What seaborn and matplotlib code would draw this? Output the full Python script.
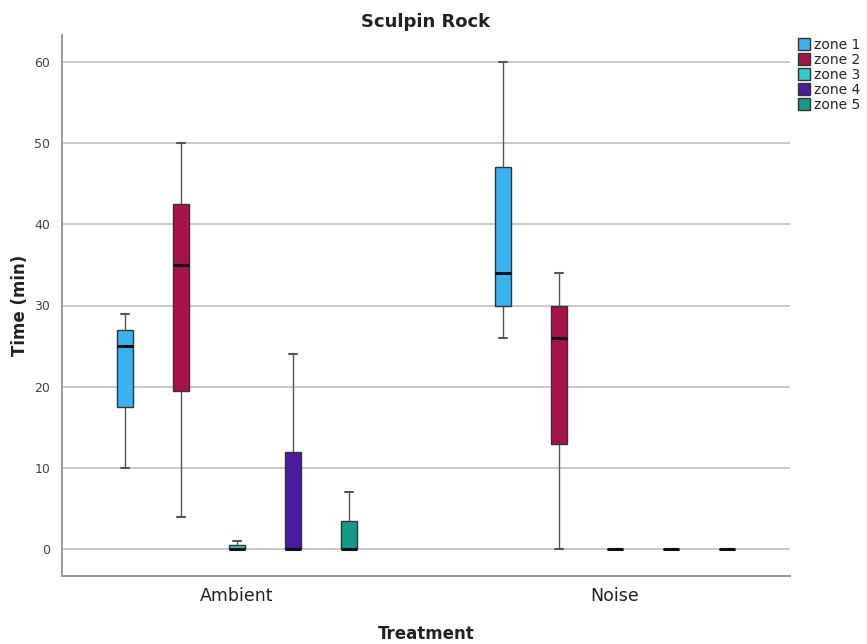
import numpy as np
import pandas as pd
import seaborn as sns
import matplotlib
matplotlib.use("Agg")
import matplotlib.pyplot as plt
from matplotlib.patches import Patch

# Data: five-number summaries (min, Q1, median, Q3, max)
treatments = ["Ambient", "Noise"]
zones = ["zone 1", "zone 2", "zone 3", "zone 4", "zone 5"]
ambient_zone1 = [10, 17.5, 25, 27, 29]
ambient_zone2 = [4, 19.5, 35, 42.5, 50]
ambient_zone3 = [0, 0, 0, 0.5, 1]
ambient_zone4 = [0, 0, 0, 12, 24]
ambient_zone5 = [0, 0, 0, 3.5, 7]
noise_zone1 = [26, 30, 34, 47, 60]
noise_zone2 = [0, 13, 26, 30, 34]
noise_zone3 = [0, 0, 0, 0, 0]
noise_zone4 = [0, 0, 0, 0, 0]
noise_zone5 = [0, 0, 0, 0, 0]
zone_colors = ["#3AB2F0", "#A8124B", "#2CCFCF", "#4A1AA0", "#14998A"]

series = {
    ("Ambient", "zone 1"): ambient_zone1,
    ("Ambient", "zone 2"): ambient_zone2,
    ("Ambient", "zone 3"): ambient_zone3,
    ("Ambient", "zone 4"): ambient_zone4,
    ("Ambient", "zone 5"): ambient_zone5,
    ("Noise", "zone 1"): noise_zone1,
    ("Noise", "zone 2"): noise_zone2,
    ("Noise", "zone 3"): noise_zone3,
    ("Noise", "zone 4"): noise_zone4,
    ("Noise", "zone 5"): noise_zone5,
}
rows = []
for (t, z), vals in series.items():
    for v in vals:
        rows.append({"Treatment": t, "Zone": z, "Time": v})
df = pd.DataFrame(rows)

sns.set_style("white")
plt.rcParams["font.family"] = ["DejaVu Sans"]

fig = plt.figure(figsize=(8.67, 6.44), dpi=100)
ax = fig.add_axes([62 / 867, 1 - 576 / 644, (790 - 62) / 867, (576 - 35) / 644])

sns.boxplot(
    data=df, x="Treatment", y="Time", hue="Zone",
    order=treatments, hue_order=zones, palette=zone_colors,
    width=0.74, gap=0.72, whis=np.inf, saturation=1,
    linewidth=1.0, linecolor="#333333",
    medianprops={"color": "#111111", "linewidth": 2.2},
    whiskerprops={"color": "#555555", "linewidth": 1.0},
    capprops={"color": "#555555", "linewidth": 1.5},
    ax=ax, legend=False,
)
ax.set_axisbelow(True)

ax.set_ylim(-3.3, 63.3)
ax.set_xlim(-0.463, 1.463)
ax.set_yticks([0, 10, 20, 30, 40, 50, 60])
ax.yaxis.grid(True, color="#CACACA", linewidth=1.4)
ax.xaxis.grid(False)
for s in ["top", "right"]:
    ax.spines[s].set_visible(False)
for s in ["left", "bottom"]:
    ax.spines[s].set_color("#999999")
    ax.spines[s].set_linewidth(1.4)
ax.tick_params(axis="y", length=5, color="#999999", labelsize=9, labelcolor="#444444", width=1)
ax.tick_params(axis="x", length=0, labelsize=12.5, labelcolor="#222222", pad=8)

ax.set_xlabel("Treatment", fontsize=12, fontweight="bold", color="#222222", labelpad=14)
ax.set_ylabel("Time (min)", fontsize=12, fontweight="bold", color="#222222")
ax.yaxis.set_label_coords(-0.045, 0.5)
ax.set_title("Sculpin Rock", fontsize=13, fontweight="bold", color="#222222", pad=6)

handles = [Patch(facecolor=c, edgecolor="#333333", linewidth=1.0, label=z)
           for c, z in zip(zone_colors, zones)]
fig.legend(handles=handles, loc="upper left", bbox_to_anchor=(792 / 867, 1 - 32 / 644),
           frameon=False, fontsize=10, handlelength=0.9, handleheight=0.9,
           handletextpad=0.3, labelspacing=0.08, borderaxespad=0)

fig.savefig("out.png", dpi=100)
